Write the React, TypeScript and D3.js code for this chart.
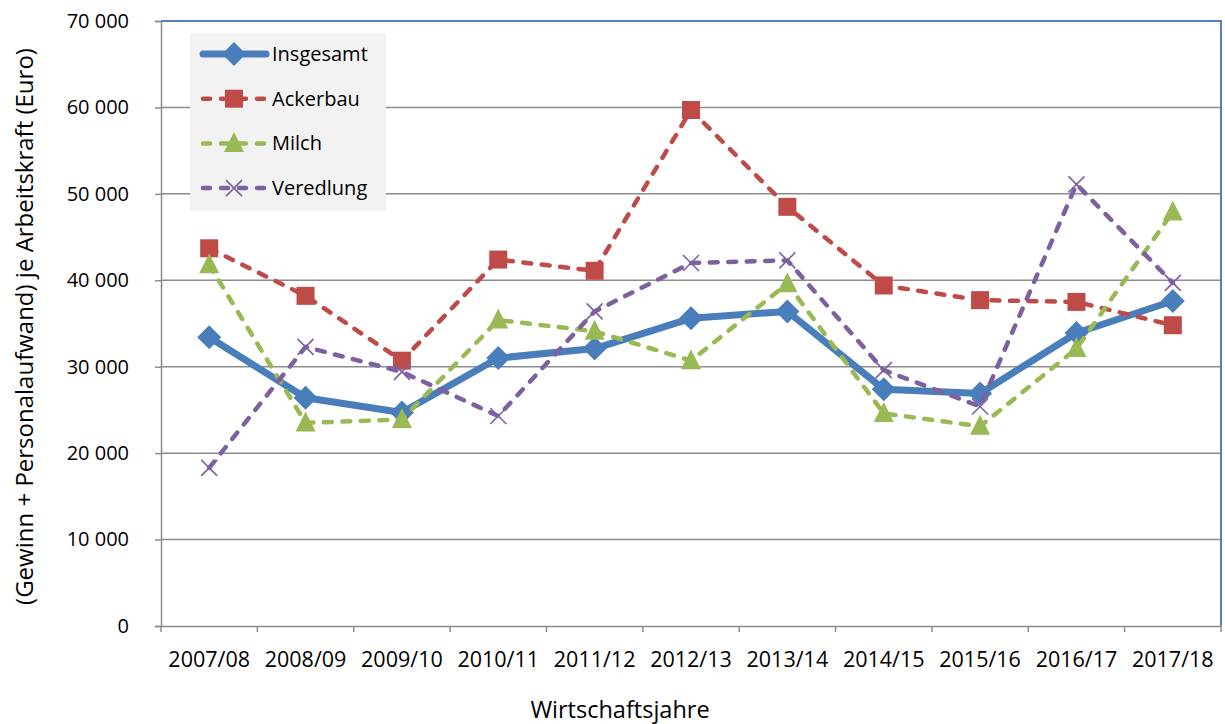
import * as d3 from "d3";
import { useEffect, useRef } from "react";

// ---- data ----
const years = ["2007/08", "2008/09", "2009/10", "2010/11", "2011/12", "2012/13", "2013/14", "2014/15", "2015/16", "2016/17", "2017/18"];
const insgesamt = [33400, 26400, 24700, 31000, 32100, 35600, 36400, 27400, 26900, 33900, 37600];
const ackerbau = [43700, 38200, 30700, 42400, 41100, 59700, 48500, 39400, 37700, 37500, 34800];
const milch = [41800, 23500, 23900, 35400, 34100, 30700, 39600, 24600, 23100, 32100, 47900];
const veredlung = [18300, 32300, 29400, 24300, 36400, 42000, 42300, 29600, 25400, 51100, 39700];
const yTicks = [0, 10000, 20000, 30000, 40000, 50000, 60000, 70000];

const font = "'Open Sans', 'Noto Sans', sans-serif";

type Series = { name: string; values: number[]; color: string; width: number; dash: string | null; marker: string };

const series: Series[] = [
  { name: "Insgesamt", values: insgesamt, color: "#4a7ebb", width: 7, dash: null, marker: "diamond" },
  { name: "Ackerbau", values: ackerbau, color: "#be4b48", width: 4.5, dash: "8,10.5", marker: "square" },
  { name: "Milch", values: milch, color: "#98b954", width: 4.5, dash: "8,10.5", marker: "triangle" },
  { name: "Veredlung", values: veredlung, color: "#7d60a0", width: 4.5, dash: "8,10.5", marker: "x" },
];

function drawMarker(g: any, kind: string, cx: number, cy: number, color: string) {
  if (kind === "diamond") {
    g.append("path")
      .attr("d", `M${cx},${cy - 12}L${cx + 12},${cy}L${cx},${cy + 12}L${cx - 12},${cy}Z`)
      .attr("fill", color);
  } else if (kind === "square") {
    g.append("rect")
      .attr("x", cx - 9).attr("y", cy - 9)
      .attr("width", 18).attr("height", 18)
      .attr("fill", color);
  } else if (kind === "triangle") {
    g.append("path")
      .attr("d", `M${cx},${cy - 11.5}L${cx + 10},${cy + 8.5}L${cx - 10},${cy + 8.5}Z`)
      .attr("fill", color);
  } else {
    g.append("path")
      .attr("d", `M${cx - 8},${cy - 8}L${cx + 8},${cy + 8}M${cx - 8},${cy + 8}L${cx + 8},${cy - 8}`)
      .attr("stroke", color)
      .attr("stroke-width", 1.6)
      .attr("fill", "none");
  }
}

export default function App() {
  const ref = useRef<SVGSVGElement | null>(null);

  useEffect(() => {
    const width = 1225;
    const height = 724;
    const left = 161, right = 1221, top = 21, bottom = 626;

    const svg = d3.select(ref.current);
    svg.selectAll("*").remove();

    // ---- scales ----
    const x = d3.scaleBand().domain(years).range([left, right]).padding(0);
    const y = d3.scaleLinear().domain([0, 70000]).range([bottom, top]);
    const cx = (i: number) => (x(years[i]) as number) + x.bandwidth() / 2;

    // ---- grid ----
    svg.append("g")
      .selectAll("line")
      .data(yTicks.filter((d) => d > 0 && d < 70000))
      .join("line")
      .attr("x1", left).attr("x2", right)
      .attr("y1", (d) => y(d)).attr("y2", (d) => y(d))
      .attr("stroke", "#8c8c8c").attr("stroke-width", 1.5);

    // plot border (top/right blue)
    svg.append("path")
      .attr("d", `M${left},${y(70000)}L${right},${y(70000)}L${right},${bottom}`)
      .attr("fill", "none").attr("stroke", "#4f81bd").attr("stroke-width", 2);

    // ---- y axis ----
    const yAxis = svg.append("g")
      .attr("transform", `translate(${left},0)`)
      .call(d3.axisLeft(y).tickValues(yTicks).tickSize(6).tickPadding(26)
        .tickFormat((d: any) => d3.format(",")(d).replace(/,/g, " ")));
    yAxis.select(".domain").attr("stroke", "#8c8c8c").attr("stroke-width", 1.5);
    yAxis.selectAll(".tick line").attr("stroke", "#8c8c8c").attr("stroke-width", 1.5);
    yAxis.selectAll("text").attr("font-family", font).attr("font-size", 20).attr("fill", "#000");

    // ---- x axis ----
    const xAxis = svg.append("g")
      .attr("transform", `translate(0,${bottom})`)
      .call(d3.axisBottom(x).tickSize(0).tickPadding(26).tickSizeOuter(0));
    xAxis.select(".domain").attr("stroke", "#8c8c8c").attr("stroke-width", 1.5);
    xAxis.selectAll("text").attr("font-family", font).attr("font-size", 21.5).attr("fill", "#000");
    svg.append("g")
      .selectAll("line")
      .data(d3.range(years.length + 1))
      .join("line")
      .attr("x1", (i) => left + i * x.bandwidth())
      .attr("x2", (i) => left + i * x.bandwidth())
      .attr("y1", bottom).attr("y2", bottom + 6)
      .attr("stroke", "#8c8c8c").attr("stroke-width", 1.5);

    // ---- series ----
    const line = d3.line<number>().x((_, i) => cx(i)).y((d) => y(d));
    series.forEach((s) => {
      const g = svg.append("g");
      g.append("path")
        .datum(s.values)
        .attr("d", line)
        .attr("fill", "none")
        .attr("stroke", s.color)
        .attr("stroke-width", s.width)
        .attr("stroke-linejoin", "round")
        .attr("stroke-linecap", "round")
        .attr("stroke-dasharray", s.dash);
      s.values.forEach((v, i) => drawMarker(g, s.marker, cx(i), y(v), s.color));
    });

    // ---- legend ----
    const lg = svg.append("g");
    lg.append("rect")
      .attr("x", 190).attr("y", 33).attr("width", 196).attr("height", 178)
      .attr("fill", "#f2f2f2");
    series.forEach((s, i) => {
      const ly = 54 + i * 44.7;
      lg.append("line")
        .attr("x1", 203).attr("x2", 266)
        .attr("y1", ly).attr("y2", ly)
        .attr("stroke", s.color)
        .attr("stroke-width", s.width)
        .attr("stroke-linecap", "round")
        .attr("stroke-dasharray", s.dash ? "7,11" : null);
      drawMarker(lg, s.marker, 234, ly, s.color);
      lg.append("text")
        .attr("x", 272).attr("y", ly)
        .attr("dy", "0.35em")
        .attr("font-family", font).attr("font-size", 20)
        .text(s.name);
    });

    // ---- axis titles ----
    svg.append("text")
      .attr("x", 620).attr("y", 710)
      .attr("text-anchor", "middle")
      .attr("dy", "0.35em")
      .attr("font-family", font).attr("font-size", 23.5)
      .text("Wirtschaftsjahre");
    svg.append("text")
      .attr("transform", `translate(25,${(top + bottom) / 2 + 3}) rotate(-90)`)
      .attr("text-anchor", "middle")
      .attr("dy", "0.35em")
      .attr("font-family", font).attr("font-size", 24)
      .text("(Gewinn + Personalaufwand) je Arbeitskraft (Euro)");

    svg.attr("viewBox", `0 0 ${width} ${height}`);
  }, []);

  return (
    <svg
      ref={ref}
      width={1225}
      height={724}
      style={{ position: "fixed", left: 0, top: 0, background: "#fff" }}
    />
  );
}
